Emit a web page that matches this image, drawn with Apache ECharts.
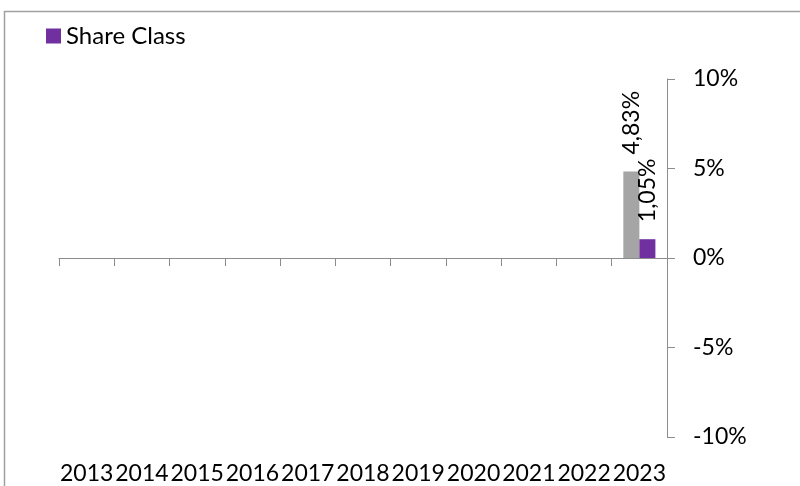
<!DOCTYPE html>
<html>
<head>
<meta charset="utf-8">
<script src="https://cdn.jsdelivr.net/npm/echarts@6/dist/echarts.min.js"></script>
<style>
html,body{margin:0;padding:0;background:#fff;}
#chart{width:800px;height:486px;}
</style>
</head>
<body>
<div id="chart"></div>
<script>
const categories = ['2013','2014','2015','2016','2017','2018','2019','2020','2021','2022','2023'];
const benchmarkValues = [null,null,null,null,null,null,null,null,null,null,4.83];
const shareClassValues = [null,null,null,null,null,null,null,null,null,null,1.05];
const yTicks = { min: -10, max: 10, interval: 5 };

const FONT = 'Lato';
const FS = 23;
const fmt = p => p.value == null ? '' : p.value.toFixed(2).replace('.', ',') + '%';

const chart = echarts.init(document.getElementById('chart'), null, {renderer:'canvas'});
chart.setOption({
  animation: false,
  backgroundColor: '#fff',
  textStyle: { fontFamily: FONT },
  graphic: [{
    type: 'rect', silent: true, z: 100,
    shape: { x: 4.5, y: 11.5, width: 900, height: 600 },
    style: { fill: 'none', stroke: '#a0a0a0', lineWidth: 1.5 }
  }],
  legend: {
    data: ['Share Class'],
    left: 46, top: 24, padding: 0,
    icon: 'rect', itemWidth: 15, itemHeight: 15,
    textStyle: { fontFamily: FONT, fontSize: 24, color: '#000' }
  },
  grid: { left: 59, right: 133, top: 79, bottom: 49, containLabel: false },
  xAxis: [{
    type: 'category', data: categories, position: 'bottom',
    axisLine: { onZero: true, lineStyle: { color: '#8c8c8c', width: 1 } },
    axisTick: { show: true, length: 8, lineStyle: { color: '#8c8c8c' } },
    axisLabel: { show: false }
  }, {
    type: 'category', data: categories, position: 'bottom',
    axisLine: { show: false }, axisTick: { show: false },
    axisLabel: { show: true, interval: 0, margin: 25, fontFamily: FONT, fontSize: FS, color: '#000' }
  }],
  yAxis: {
    type: 'value', position: 'right',
    min: yTicks.min, max: yTicks.max, interval: yTicks.interval,
    axisLine: { show: true, lineStyle: { color: '#8c8c8c', width: 1 } },
    axisTick: { show: true, length: 8, lineStyle: { color: '#8c8c8c' } },
    splitLine: { show: false },
    axisLabel: { margin: 26, fontFamily: FONT, fontSize: FS, color: '#000', formatter: '{value}%' }
  },
  series: [{
    name: 'Benchmark', type: 'bar', data: benchmarkValues, xAxisIndex: 0,
    barGap: '0%', barCategoryGap: '42%',
    itemStyle: { color: '#a5a5a5' },
    label: { show: true, position: 'top', rotate: 90, align: 'left', verticalAlign: 'middle', distance: 17,
      fontFamily: FONT, fontSize: FS, color: '#000', formatter: fmt }
  }, {
    name: 'Share Class', type: 'bar', data: shareClassValues, xAxisIndex: 0,
    barGap: '0%', barCategoryGap: '42%',
    itemStyle: { color: '#7030a0' },
    label: { show: true, position: 'top', rotate: 90, align: 'left', verticalAlign: 'middle', distance: 17,
      fontFamily: FONT, fontSize: FS, color: '#000', formatter: fmt }
  }]
});
</script>
</body>
</html>
